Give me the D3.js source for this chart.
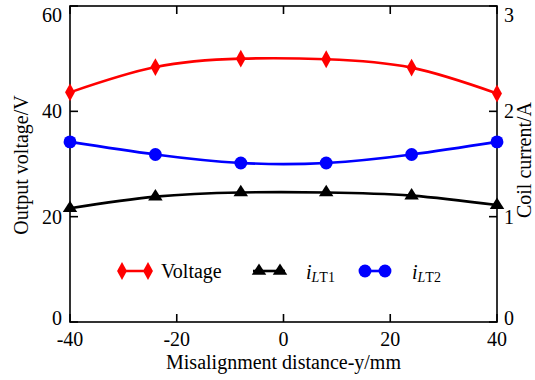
<!DOCTYPE html>
<html>
<head>
<meta charset="utf-8">
<script src="https://cdn.jsdelivr.net/npm/d3@7"></script>
<style>
  body { margin: 0; background: #fff; }
  svg text, svg tspan { font-family: 'Liberation Serif' !important; }
</style>
</head>
<body>
<script>
// misalignment positions (mm)
var offsets = [-40, -24, -8, 8, 24, 40];
// output voltage (V), left axis
var voltage = [43.6, 48.4, 50.0, 49.9, 48.3, 43.4];
// coil currents (A), right axis
var iLT1 = [1.08, 1.19, 1.23, 1.23, 1.20, 1.11];
var iLT2 = [1.71, 1.59, 1.51, 1.51, 1.59, 1.71];

var xTicks = [-40, -20, 0, 20, 40],
    yLeftTicks = [0, 20, 40, 60],
    yRightTicks = [0, 1, 2, 3];

var width = 535, height = 380,
    margin = {left: 70, right: 38, top: 6, bottom: 58},
    fontSize = 20;

var svg = d3.select("body").append("svg")
    .attr("width", width)
    .attr("height", height)
    .attr("font-family", "Liberation Serif");

var x = d3.scaleLinear().domain([-40, 40]).range([margin.left, width - margin.right]),
    yL = d3.scaleLinear().domain([0, 60]).range([height - margin.bottom, margin.top]),
    yR = d3.scaleLinear().domain([0, 3]).range([height - margin.bottom, margin.top]);

var x0 = x.range()[0], x1 = x.range()[1],
    y0 = yL.range()[0], y1 = yL.range()[1];

function txt(xp, yp, s, anchor) {
    return svg.append("text")
        .attr("x", xp).attr("y", yp)
        .attr("text-anchor", anchor || "start")
        .attr("font-family", "Liberation Serif")
        .style("font-family", "'Liberation Serif'")
        .style("font-size", fontSize + "px")
        .text(String(s));
}

// axes (ticks pointing inward)
var tickLen = 8;
var axisG = svg.append("g").attr("stroke", "#000").attr("stroke-width", 1.6);
axisG.append("rect")
    .attr("x", x0).attr("y", y1)
    .attr("width", x1 - x0).attr("height", y0 - y1)
    .attr("fill", "none");

xTicks.forEach(function(t) {
    axisG.append("line").attr("x1", x(t)).attr("x2", x(t)).attr("y1", y0).attr("y2", y0 - tickLen);
    axisG.append("line").attr("x1", x(t)).attr("x2", x(t)).attr("y1", y1).attr("y2", y1 + tickLen);
    txt(x(t), y0 + 24, t, "middle");
});
// tick labels at the ends are pulled inside the frame, as in the reference
function labelY(v) { return Math.min(Math.max(v, y1 + 9), y0 - 4) + 7; }
yLeftTicks.forEach(function(t) {
    axisG.append("line").attr("x1", x0).attr("x2", x0 + tickLen).attr("y1", yL(t)).attr("y2", yL(t));
    txt(x0 - 8, labelY(yL(t)), t, "end");
});
yRightTicks.forEach(function(t) {
    axisG.append("line").attr("x1", x1).attr("x2", x1 - tickLen).attr("y1", yR(t)).attr("y2", yR(t));
    txt(x1 + 7, labelY(yR(t)), t, "start");
});

txt((x0 + x1) / 2, y0 + 47, "Misalignment distance-y/mm", "middle");

txt(0, 0, "Output voltage/V", "middle")
    .attr("transform", "translate(28," + ((y0 + y1) / 2 + 1) + ") rotate(-90)");
txt(0, 0, "Coil current/A", "middle")
    .attr("transform", "translate(531," + ((y0 + y1) / 2 - 4) + ") rotate(-90)");

// markers
var diamond = d3.symbol().type(d3.symbolDiamond).size(70),
    triangle = d3.symbol().type(d3.symbolTriangle).size(75),
    circle = d3.symbol().type(d3.symbolCircle).size(130);

var series = [
    {name: "Voltage", values: voltage, y: yL, color: "#ff0000", sym: diamond, sx: 1.1, sy: 1.15},
    {name: "iLT1", values: iLT1, y: yR, color: "#000000", sym: triangle, sx: 1.1, sy: 1},
    {name: "iLT2", values: iLT2, y: yR, color: "#0000ff", sym: circle, sx: 1, sy: 1}
];

var line = d3.line().curve(d3.curveNatural);

series.forEach(function(s) {
    var pts = offsets.map(function(o, i) { return [x(o), s.y(s.values[i])]; });
    svg.append("path")
        .attr("d", line(pts))
        .attr("fill", "none")
        .attr("stroke", s.color)
        .attr("stroke-width", 2.6);
    svg.selectAll(null).data(pts).enter().append("path")
        .attr("d", s.sym())
        .attr("transform", function(p) { return "translate(" + p[0] + "," + p[1] + ") scale(" + s.sx + "," + s.sy + ")"; })
        .attr("fill", s.color);
});

// legend
var legY = 271;
var legend = [
    {s: series[0], lx: [118, 152], mk: [122, 148], tx: 161},
    {s: series[1], lx: [253, 285], mk: [259, 280], tx: 306},
    {s: series[2], lx: [361, 389], mk: [365, 385], tx: 412}
];
legend.forEach(function(l) {
    svg.append("line")
        .attr("x1", l.lx[0]).attr("x2", l.lx[1])
        .attr("y1", legY).attr("y2", legY)
        .attr("stroke", l.s.color).attr("stroke-width", 2.6);
    l.mk.forEach(function(mx) {
        svg.append("path")
            .attr("d", l.s.sym())
            .attr("transform", "translate(" + mx + "," + legY + ") scale(" + l.s.sx + "," + l.s.sy + ")")
            .attr("fill", l.s.color);
    });
});

txt(legend[0].tx, legY + 7, "Voltage");

function currentLabel(xp, num) {
    var t = txt(xp, legY + 8, "");
    t.append("tspan").style("font-style", "italic").text("i");
    t.append("tspan").attr("dy", 3).style("font-size", "14px").style("font-style", "italic").text("L");
    t.append("tspan").style("font-size", "14px").text("T" + num);
}
currentLabel(legend[1].tx, 1);
currentLabel(legend[2].tx, 2);
</script>
</body>
</html>
